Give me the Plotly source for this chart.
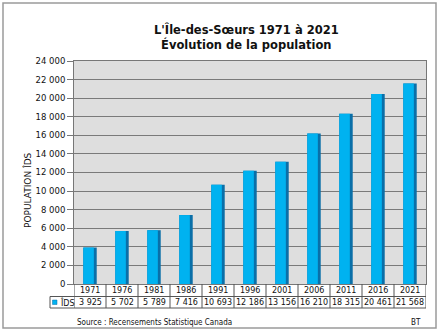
import plotly.graph_objects as go

# Census years and population of L'Île-des-Sœurs
years = ["1971", "1976", "1981", "1986", "1991", "1996", "2001", "2006", "2011", "2016", "2021"]
population = [3925, 5702, 5789, 7416, 10693, 12186, 13156, 16210, 18315, 20461, 21568]
series_name = "ÎDS"
y_ticks = [0, 2000, 4000, 6000, 8000, 10000, 12000, 14000, 16000, 18000, 20000, 22000, 24000]

W, H = 440, 336
ML, MR, MT, MB = 74, 14, 61, 52
PW, PH = W - ML - MR, H - MT - MB


def px_x(p):
    return (p - ML) / PW


def px_y(p):
    return (H - MB - p) / PH


def fmt(v):
    return f"{v:,}".replace(",", " ")


n = len(years)
xs = list(range(n))

fig = go.Figure()
# dark body of each bar (right edge shading)
fig.add_trace(go.Bar(x=xs, y=population, width=0.42, offset=-0.21,
                     marker=dict(color="#0a6fa8", line=dict(width=0)),
                     name=series_name, showlegend=False, hoverinfo="skip"))
# bright face of each bar
fig.add_trace(go.Bar(x=xs, y=population, width=0.33, offset=-0.21,
                     marker=dict(color="#00b2f0", line=dict(width=0)),
                     name=series_name, showlegend=False))

shapes = []
annotations = []
TXT = "#111111"
tab_font = dict(size=8, color=TXT, family="DejaVu Sans")

# outer frame
shapes.append(dict(type="rect", xref="paper", yref="paper",
                   x0=px_x(3), x1=px_x(436), y0=px_y(328), y1=px_y(3),
                   line=dict(color="#9a9a9a", width=1.5), fillcolor="rgba(0,0,0,0)", layer="below"))

# data table below the plot
row1_top, row1_bot, row2_bot = px_y(284), px_y(296.5), px_y(308)
grid_col = "#555555"
shapes.append(dict(type="line", xref="paper", yref="paper", x0=px_x(50), x1=1, y0=row1_bot, y1=row1_bot,
                   line=dict(color=grid_col, width=1)))
shapes.append(dict(type="line", xref="paper", yref="paper", x0=px_x(50), x1=1, y0=row2_bot, y1=row2_bot,
                   line=dict(color=grid_col, width=1)))
shapes.append(dict(type="line", xref="paper", yref="paper", x0=px_x(50), x1=px_x(50), y0=row1_bot, y1=row2_bot,
                   line=dict(color=grid_col, width=1)))
for i in range(n + 1):
    xb = i - 0.5
    shapes.append(dict(type="line", xref="x", yref="paper", x0=xb, x1=xb, y0=row1_top, y1=row2_bot,
                       line=dict(color=grid_col, width=1)))
for i, (yr, v) in enumerate(zip(years, population)):
    annotations.append(dict(x=i, y=(row1_top + row1_bot) / 2, xref="x", yref="paper", text=yr,
                            showarrow=False, font=tab_font, yanchor="middle"))
    annotations.append(dict(x=i, y=(row1_bot + row2_bot) / 2, xref="x", yref="paper", text=fmt(v),
                            showarrow=False, font=tab_font, yanchor="middle"))
# legend key inside the table
shapes.append(dict(type="rect", xref="paper", yref="paper", x0=px_x(52.5), x1=px_x(57),
                   y0=px_y(304.5), y1=px_y(300), fillcolor="#00b2f0", line=dict(color="#0a6fa8", width=0.5)))
annotations.append(dict(x=px_x(58), y=(row1_bot + row2_bot) / 2, xref="paper", yref="paper",
                        text=series_name, xanchor="left", yanchor="middle", showarrow=False, font=tab_font))

# title
annotations.append(dict(x=px_x(246), y=px_y(37), xref="paper", yref="paper",
                        text="<b>L'Île-des-Sœurs 1971 à 2021<br>Évolution de la population</b>",
                        xanchor="center", yanchor="middle", showarrow=False,
                        font=dict(size=11.5, color=TXT, family="DejaVu Sans")))
# axis title
annotations.append(dict(x=px_x(27), y=px_y(190), xref="paper", yref="paper", text="POPULATION ÎDS",
                        textangle=-90, xanchor="center", yanchor="middle", showarrow=False,
                        font=dict(size=9, color=TXT, family="DejaVu Sans")))
# footer
foot_font = dict(size=8, color=TXT, family="Liberation Sans Narrow, DejaVu Sans Condensed, Liberation Sans")
annotations.append(dict(x=px_x(75), y=px_y(322.5), xref="paper", yref="paper",
                        text="Source : Recensements Statistique Canada", xanchor="left", yanchor="middle",
                        showarrow=False, font=foot_font))
annotations.append(dict(x=px_x(423), y=px_y(322.5), xref="paper", yref="paper", text="BT",
                        xanchor="right", yanchor="middle", showarrow=False, font=foot_font))

fig.update_layout(
    width=W, height=H,
    margin=dict(l=ML, r=MR, t=MT, b=MB, autoexpand=False),
    paper_bgcolor="white",
    plot_bgcolor="#dedede",
    barmode="overlay",
    separators=", ",
    shapes=shapes,
    annotations=annotations,
    xaxis=dict(range=[-0.5, n - 0.5], showticklabels=False, showgrid=False, zeroline=False,
               showline=True, linecolor="#777777", mirror=True, ticks=""),
    yaxis=dict(range=[0, 24000], tickvals=y_ticks, tickformat=",d", showgrid=True,
               gridcolor="#7a7a7a", gridwidth=1, zeroline=False, showline=True, linecolor="#777777",
               mirror=True, ticks="outside", ticklen=6, tickcolor="#777777",
               tickfont=dict(size=8.5, color=TXT, family="DejaVu Sans")),
    font=dict(family="DejaVu Sans"),
)

fig.write_html("out.html")
